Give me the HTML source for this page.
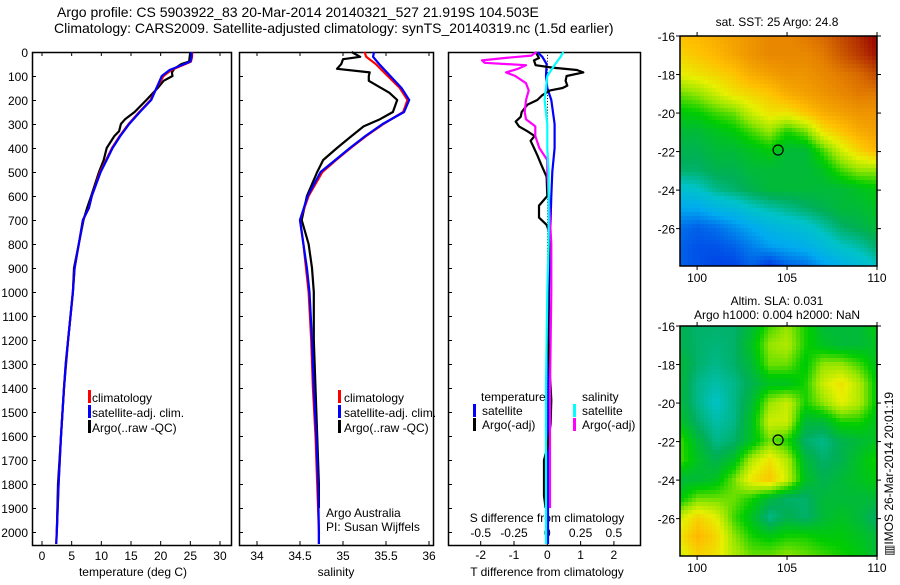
<!DOCTYPE html>
<html><head><meta charset="utf-8"><style>
html,body{margin:0;padding:0;background:#fff;}
body{width:900px;height:580px;overflow:hidden;font-family:"Liberation Sans",sans-serif;}
svg text{font-family:"Liberation Sans",sans-serif;fill:#000;}
</style></head><body>
<svg id="fig" width="900" height="580" viewBox="0 0 900 580" xmlns="http://www.w3.org/2000/svg">
<text x="57" y="17" font-size="14">Argo profile: CS 5903922_83 20-Mar-2014 20140321_527 21.919S 104.503E</text>
<text x="54" y="33" font-size="14">Climatology: CARS2009. Satellite-adjusted climatology: synTS_20140319.nc (1.5d earlier)</text>
<g id="g1"></g>
<g id="g2"></g>
<g id="g3"></g>
<g id="m1"></g>
<g id="m2"></g>
<text transform="translate(893,556) rotate(-90)" font-size="12">▥IMOS 26-Mar-2014 20:01:19</text>
</svg>
<script>
// ---- data ----
const depths = [0,20,40,50,75,100,150,200,250,300,350,400,450,500,600,650,700,800,900,1000,1100,1200,1300,1400,1600,1800,2000,2050];
const tempClim = [25.3,25.3,25.1,24.2,21.8,20.5,19.3,18.3,16.4,14.6,13.1,11.8,10.8,9.8,8.4,7.9,6.9,6.2,5.5,5.2,4.8,4.4,4.0,3.7,3.2,2.8,2.5,2.4];
const tempSat  = [25.2,25.2,25.0,24.0,21.5,20.2,19.3,18.4,16.5,14.7,13.2,11.9,10.9,9.9,8.4,7.9,6.9,6.2,5.5,5.2,4.8,4.4,4.0,3.7,3.2,2.8,2.5,2.4];
const tempArgoDepth = [0,20,40,50,70,85,100,120,150,200,250,280,300,330,350,400,450,500,600,650,700,800,900,1000,1200,1400,1600,1800,2000];
const tempArgo = [25.0,24.9,24.8,23.5,22.3,21.9,22.0,20.5,19.5,17.6,15.6,14.0,13.3,13.0,12.2,10.9,10.4,9.6,8.3,7.6,7.0,6.2,5.4,5.2,4.4,3.7,3.2,2.7,2.5];
const salDepth = [0,20,50,100,150,200,250,300,350,400,450,500,600,700,800,900,1000,1200,1400,1600,1800,2000,2050];
const salClim = [35.25,35.27,35.38,35.52,35.66,35.75,35.70,35.47,35.27,35.09,34.92,34.76,34.60,34.50,34.54,34.57,34.60,34.63,34.65,34.68,34.70,34.72,34.72];
const salSat  = [35.36,35.35,35.42,35.55,35.68,35.77,35.71,35.46,35.26,35.08,34.91,34.74,34.59,34.50,34.54,34.58,34.61,34.64,34.66,34.69,34.71,34.72,34.72];
const salArgoDepth = [0,20,30,50,70,85,100,120,170,200,250,280,310,350,400,450,500,600,700,800,900,1000,1200,1400,1600,1800,1900];
const salArgo = [35.10,35.20,35.00,34.98,34.93,35.31,35.30,35.30,35.54,35.63,35.58,35.43,35.24,35.10,34.93,34.77,34.70,34.58,34.52,34.60,34.64,34.66,34.66,34.68,34.70,34.72,34.72];
const tdDepth = [0,20,50,100,150,200,300,400,500,600,700,800,1000,1400,1800,2050];
const tdSat = [-0.3,-0.15,-0.02,-0.04,0.0,0.12,0.22,0.22,0.15,0.12,0.1,0.08,0.05,0.03,0.02,0.02];
const sdSat = [0.12,0.10,0.06,0.0,-0.01,-0.02,0.0,0.0,0.01,0.01,0.01,0.01,0.0,-0.01,-0.01,-0.01];
const tdArgoDepth = [0,25,35,55,65,75,85,100,120,140,150,160,180,200,220,250,270,290,310,330,350,370,400,430,470,520,600,640,690,720,760,900,1200,1450,1550,1650,1700,1850,1900];
const tdArgo = [-0.35,-0.25,-0.4,-0.35,0.15,0.89,1.08,0.58,0.55,0.6,0.46,0.08,-0.15,-0.3,-0.6,-0.77,-0.8,-0.95,-0.85,-0.6,-0.38,-0.5,-0.4,-0.3,-0.18,-0.02,0.0,-0.25,-0.25,-0.02,0.08,0.03,0.02,0.12,0.1,0.0,-0.1,-0.1,-0.05];
const sdArgoDepth = [0,15,25,35,45,55,70,85,100,130,160,200,250,280,310,350,400,450,500,700,800,1000,1400,1800,1900];
const sdArgo = [-0.08,-0.12,-0.32,-0.49,-0.47,-0.16,-0.22,-0.31,-0.24,-0.16,-0.14,-0.16,-0.17,-0.16,-0.09,-0.09,-0.06,0.0,0.0,0.02,0.03,0.03,0.02,0.02,0.02];
const depthTicks = [0,100,200,300,400,500,600,700,800,900,1000,1100,1200,1300,1400,1500,1600,1700,1800,1900,2000];
const tempTicks = [0,5,10,15,20,25,30];
const salTicks = [34,34.5,35,35.5,36];
const tdTicks = [-2,-1,0,1,2];
const sdTicks = [-0.5,-0.25,0,0.25,0.5];
const sdTickLabels = ["-0.5","-0.25","0","0.25","0.5"];
const latTicks = [-16,-18,-20,-22,-24,-26];
const lonTicks = [100,105,110];
const argoLon = 104.503, argoLat = -21.919;
const sstGrid = [
[.75,.76,.78,.8,.82,.84,.84,.86,.88,.92,.96,1.0],
[.72,.74,.76,.79,.82,.84,.84,.84,.86,.9,.94,.98],
[.68,.7,.72,.74,.78,.8,.82,.82,.84,.86,.88,.92],
[.6,.62,.66,.7,.72,.74,.78,.8,.82,.84,.86,.86],
[.54,.55,.58,.6,.66,.7,.7,.74,.78,.8,.82,.82],
[.5,.5,.52,.54,.58,.62,.56,.6,.7,.74,.78,.8],
[.48,.48,.5,.5,.52,.54,.5,.5,.58,.66,.72,.76],
[.46,.46,.48,.48,.5,.5,.5,.5,.52,.58,.62,.62],
[.38,.4,.44,.46,.48,.5,.5,.5,.5,.5,.52,.54],
[.3,.3,.34,.36,.4,.42,.44,.46,.48,.5,.5,.52],
[.22,.2,.22,.26,.3,.34,.36,.38,.42,.46,.48,.5],
[.2,.18,.18,.2,.24,.28,.3,.32,.36,.4,.42,.46],
[.2,.18,.16,.16,.2,.14,.2,.22,.28,.32,.36,.4]];
const slaGrid = [
[.48,.46,.46,.46,.5,.58,.62,.56,.5,.5,.5,.54],
[.48,.46,.45,.46,.52,.62,.64,.56,.52,.5,.5,.52],
[.5,.46,.44,.46,.5,.6,.6,.54,.62,.62,.58,.52],
[.5,.44,.42,.44,.48,.52,.52,.56,.66,.7,.64,.54],
[.5,.44,.4,.44,.5,.62,.66,.56,.62,.68,.64,.54],
[.52,.46,.42,.44,.52,.66,.66,.5,.5,.56,.56,.52],
[.58,.5,.44,.46,.52,.6,.56,.46,.44,.48,.5,.52],
[.58,.52,.48,.52,.64,.7,.64,.5,.46,.48,.52,.56],
[.5,.5,.52,.6,.7,.74,.66,.52,.48,.5,.52,.54],
[.54,.6,.6,.6,.56,.5,.46,.46,.5,.5,.5,.5],
[.66,.72,.68,.58,.52,.44,.48,.46,.5,.52,.5,.46],
[.7,.76,.72,.62,.56,.54,.56,.56,.54,.54,.52,.5],
[.66,.72,.7,.64,.6,.6,.62,.6,.58,.56,.54,.5]];

// ---- helpers ----
const NS="http://www.w3.org/2000/svg";
function mk(parent,tag,attrs){const e=document.createElementNS(NS,tag);for(const k in attrs)e.setAttribute(k,attrs[k]);parent.appendChild(e);return e;}
const Y0=52, DPX=0.24, BOT=545;
const yD = d => Y0 + d*DPX;
const xT = v => 42 + v*5.933;
const xS = v => 257 + (v-34)*86;
const xTD = v => 547.3 + v*33.3;
const xSD = v => 547.3 + v*133.2;

function frame(g,x0,x1,name){
  const r=mk(g,'rect',{x:x0+0.5,y:Y0+0.5,width:x1-x0,height:BOT-Y0,fill:'none',stroke:'#000','stroke-width':1.5});
  
  
  depthTicks.forEach(d=>{mk(g,'line',{x1:x0,x2:x0+4,y1:yD(d)+0.5,y2:yD(d)+0.5,stroke:'#000'});});
}
function line(g,xs,ys,xf,color,name,w){
  const pts=xs.map((v,i)=>xf(v).toFixed(1)+','+yD(ys[i]).toFixed(1)).join(' ');
  const p=mk(g,'polyline',{points:pts,fill:'none',stroke:color,'stroke-width':w||2.2,'stroke-linejoin':'round'});
  
  
}
function txt(g,x,y,s,size,anchor,name){
  const t=mk(g,'text',{x:x,y:y,'font-size':size||12,'text-anchor':anchor||'start'});
  t.textContent=s;
  
  
  return t;
}
function legendBar(g,x,y,color,name){
  const r=mk(g,'rect',{x:x,y:y,width:3,height:13,fill:color});
  
  
}

// ---- panel 1 ----
const g1=document.getElementById('g1');
frame(g1,32,231,'temperature-plot-frame');
depthTicks.forEach(d=>{txt(g1,28,yD(d)+5,String(d),12,'end','depth-tick-label');});
tempTicks.forEach(v=>{mk(g1,'line',{x1:xT(v),x2:xT(v),y1:BOT,y2:BOT-4,stroke:'#000'});mk(g1,'line',{x1:xT(v),x2:xT(v),y1:Y0,y2:Y0+4,stroke:'#000'});txt(g1,xT(v),560,String(v),12,'middle','temperature-tick-label');});
txt(g1,133,576,'temperature (deg C)',12,'middle','x-axis-title-temperature');
line(g1,tempArgo,tempArgoDepth,xT,'#000','argo-temperature-line');
line(g1,tempClim,depths,xT,'#f00','climatology-temperature-line');
line(g1,tempSat,depths,xT,'#00f','satellite-temperature-line');
legendBar(g1,88,390,'#f00','legend-climatology-swatch');txt(g1,92,402,'climatology',12,'start','legend-climatology');
legendBar(g1,88,405,'#00f','legend-satellite-swatch');txt(g1,92,417,'satellite-adj. clim.',12,'start','legend-satellite');
legendBar(g1,88,420,'#000','legend-argo-swatch');txt(g1,92,432,'Argo(..raw -QC)',12,'start','legend-argo');

// ---- panel 2 ----
const g2=document.getElementById('g2');
frame(g2,239,433,'salinity-plot-frame');
salTicks.forEach(v=>{mk(g2,'line',{x1:xS(v),x2:xS(v),y1:BOT,y2:BOT-4,stroke:'#000'});mk(g2,'line',{x1:xS(v),x2:xS(v),y1:Y0,y2:Y0+4,stroke:'#000'});txt(g2,xS(v),560,String(v),12,'middle','salinity-tick-label');});
txt(g2,336,576,'salinity',12,'middle','x-axis-title-salinity');
line(g2,salArgo,salArgoDepth,xS,'#000','argo-salinity-line');
line(g2,salClim,salDepth,xS,'#f00','climatology-salinity-line');
line(g2,salSat,salDepth,xS,'#00f','satellite-salinity-line');
legendBar(g2,338,390,'#f00','legend-climatology-swatch');txt(g2,344,402,'climatology',12,'start','legend-climatology');
legendBar(g2,338,405,'#00f','legend-satellite-swatch');txt(g2,344,417,'satellite-adj. clim.',12,'start','legend-satellite');
legendBar(g2,338,420,'#000','legend-argo-swatch');txt(g2,344,432,'Argo(..raw -QC)',12,'start','legend-argo');
txt(g2,326,517,'Argo Australia',12,'start','credit-argo-australia');
txt(g2,326,531,'PI: Susan Wijffels',12,'start','credit-pi');

// ---- panel 3 ----
const g3=document.getElementById('g3');
frame(g3,448,640,'difference-plot-frame');
for(let d=0;d<=2050;d+=12){mk(g3,'rect',{x:547,y:yD(d),width:1,height:1,fill:'#000'});}
tdTicks.forEach(v=>{mk(g3,'line',{x1:xTD(v),x2:xTD(v),y1:BOT,y2:BOT-4,stroke:'#000'});txt(g3,xTD(v),559,String(v),12,'middle','t-diff-tick-label');});
sdTicks.forEach((v,i)=>{txt(g3,xSD(v),537,sdTickLabels[i],12,'middle','s-diff-tick-label');});
txt(g3,547,522,'S difference from climatology',12,'middle','s-diff-axis-title');
txt(g3,547,576,'T difference from climatology',12,'middle','t-diff-axis-title');
line(g3,tdSat,tdDepth,xTD,'#00f','satellite-t-diff-line');
line(g3,tdArgo,tdArgoDepth,xTD,'#000','argo-t-diff-line');
line(g3,sdArgo,sdArgoDepth,xSD,'#f0f','argo-s-diff-line');
line(g3,sdSat,tdDepth,xSD,'#0ff','satellite-s-diff-line');
txt(g3,481,401,'temperature',12,'start','legend-temperature-heading');
legendBar(g3,473,404,'#00f','legend-t-satellite-swatch');txt(g3,482,415,'satellite',12,'start','legend-t-satellite');
legendBar(g3,473,418,'#000','legend-t-argo-swatch');txt(g3,482,429,'Argo(-adj)',12,'start','legend-t-argo');
txt(g3,582,401,'salinity',12,'start','legend-salinity-heading');
legendBar(g3,573,404,'#0ff','legend-s-satellite-swatch');txt(g3,582,415,'satellite',12,'start','legend-s-satellite');
legendBar(g3,573,418,'#f0f','legend-s-argo-swatch');txt(g3,582,429,'Argo(-adj)',12,'start','legend-s-argo');

// ---- maps ----
const cstops=[[0,[0,0,140]],[0.15,[0,60,230]],[0.3,[0,170,240]],[0.4,[0,195,200]],[0.47,[0,175,90]],[0.55,[0,205,0]],[0.62,[150,230,0]],[0.68,[230,240,0]],[0.75,[255,190,0]],[0.85,[230,130,0]],[0.95,[180,50,0]],[1,[150,0,0]]];
function cmap(v){v=Math.max(0,Math.min(1,v));for(let i=1;i<cstops.length;i++){if(v<=cstops[i][0]){const a=cstops[i-1],b=cstops[i],t=(v-a[0])/(b[0]-a[0]);return 'rgb('+a[1].map((c,k)=>Math.round(c+(b[1][k]-c)*t)).join(',')+')';}}return 'rgb(150,0,0)';}
function sample(grid,fx,fy){const R=grid.length-1,C=grid[0].length-1;const x=fx*C,y=fy*R;const i=Math.min(Math.floor(y),R-1),j=Math.min(Math.floor(x),C-1);const ty=y-i,tx=x-j;return grid[i][j]*(1-tx)*(1-ty)+grid[i][j+1]*tx*(1-ty)+grid[i+1][j]*(1-tx)*ty+grid[i+1][j+1]*tx*ty;}
function drawMap(id,grid,top,bottom,title1,title2){
  const g=document.getElementById(id);
  const L=680,R=877,lon0=99.05,lon1=110,lat0=-16,lat1=-27.94;
  const xL=v=>L+(v-lon0)/(lon1-lon0)*(R-L);
  const yL=v=>top+(v-lat0)/(lat1-lat0)*(bottom-top);
  const cell=4;
  for(let y=top;y<bottom;y+=cell){for(let x=L;x<R;x+=cell){
    const v=sample(grid,(x+cell/2-L)/(R-L),(y+cell/2-top)/(bottom-top));
    mk(g,'rect',{x:x,y:y,width:Math.min(cell,R-x)+0.3,height:Math.min(cell,bottom-y)+0.3,fill:cmap(v)});
  }}
  const fr=mk(g,'rect',{x:L,y:top,width:R-L,height:bottom-top,fill:'none',stroke:'#000','stroke-width':1.5});
  
  
  latTicks.forEach(v=>{mk(g,'line',{x1:L-4,x2:L,y1:yL(v),y2:yL(v),stroke:'#000'});mk(g,'line',{x1:R,x2:R+4,y1:yL(v),y2:yL(v),stroke:'#000'});txt(g,675,yL(v)+5,String(v),12,'end','latitude-tick-label');});
  lonTicks.forEach(v=>{mk(g,'line',{x1:xL(v),x2:xL(v),y1:top-4,y2:top,stroke:'#000'});mk(g,'line',{x1:xL(v),x2:xL(v),y1:bottom,y2:bottom+4,stroke:'#000'});txt(g,xL(v),bottom+16,String(v),12,'middle','longitude-tick-label');});
  const c=mk(g,'circle',{cx:xL(argoLon),cy:yL(argoLat),r:5,fill:'none',stroke:'#000','stroke-width':1.2});
  
  
  if(title2){txt(g,777,top-32+11,title1,12,'middle','map-title');txt(g,777,top-32+25,title2,12,'middle','map-subtitle');}
  else txt(g,777,top-10,title1,12,'middle','map-title');
}
drawMap('m1',sstGrid,36,266,'sat. SST: 25 Argo: 24.8');
drawMap('m2',slaGrid,326,556,'Altim. SLA: 0.031','Argo h1000: 0.004 h2000: NaN');
</script>
</body></html>
